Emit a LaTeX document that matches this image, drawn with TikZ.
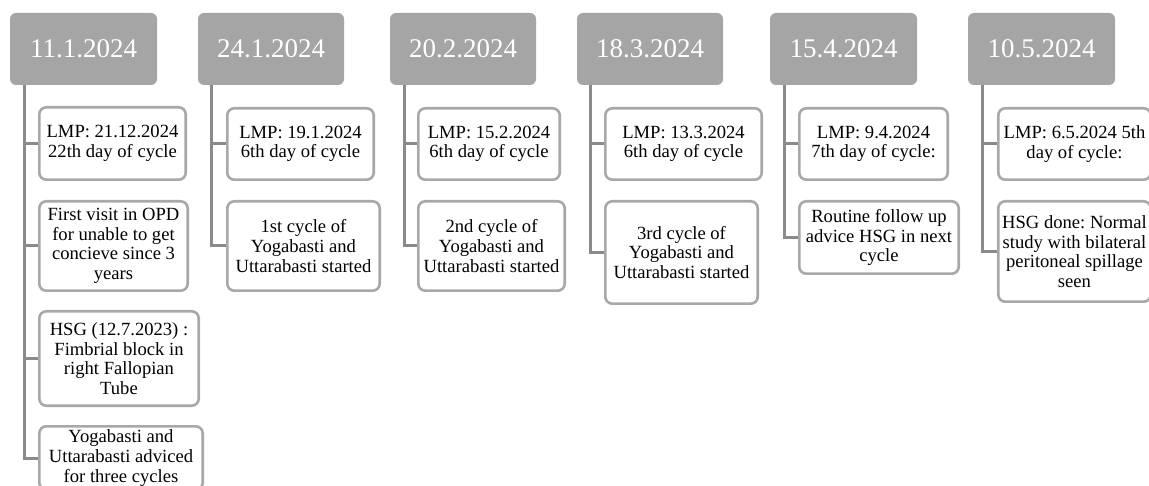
\documentclass[tikz,border=0pt]{standalone}
\usepackage{fontspec}
\setmainfont{Liberation Serif}
\frenchspacing
\definecolor{hdrgray}{HTML}{A5A5A5}
\definecolor{boxgray}{HTML}{A8A8A8}
\definecolor{conngray}{HTML}{8A8A8A}
\tikzset{
  hdr/.style={fill=hdrgray, rounded corners=6pt, text=white, inner sep=0pt,
    font=\fontsize{27}{30}\selectfont},
  cbox/.style={draw=boxgray, line width=2.6pt, fill=white, rounded corners=7pt,
    align=center, inner sep=0pt, font=\fontsize{18.6}{19.6}\selectfont},
  conn/.style={draw=conngray, line width=3pt}
}
\newcommand\hbx[5]{\node[hdr, minimum width={#3-#2}, minimum height=72pt] (#1) at ({(#2+#3)/2},49) {#4};
  \coordinate (#1v) at (#5,85);}
\newcommand\cb[6]{\node[cbox, minimum width={#4-#2-2.6}, minimum height={#5-#3-2.6}] (#1) at ({(#2+#4)/2},{(#3+#5)/2}) {#6};}
\begin{document}
\begin{tikzpicture}[x=1pt,y=-1pt]
\useasboundingbox (0,0) rectangle (1149,486);
\clip (0,0) rectangle (1149,486);
\fill[white] (0,0) rectangle (1149,486);
% headers
\hbx{h1}{10}{157}{11.1.2024}{24}
\hbx{h2}{198}{344}{24.1.2024}{211}
\hbx{h3}{390}{536}{20.2.2024}{404}
\hbx{h4}{577}{723}{18.3.2024}{590}
\hbx{h5}{770}{917}{15.4.2024}{784}
\hbx{h6}{968}{1115}{10.5.2024}{982}
% boxes
\cb{a1}{38}{106}{187}{181}{LMP: 21.12.2024\\22th day of cycle}
\cb{a2}{38}{200}{189}{292}{First visit in OPD\\for unable to get\\concieve since 3\\years}
\cb{a3}{38}{310}{200}{407}{HSG (12.7.2023) :\\Fimbrial block in\\right Fallopian\\Tube}
\cb{a4}{38}{425}{204}{491}{Yogabasti and\\Uttarabasti adviced\\for three cycles}
\cb{b1}{226}{107}{375}{181}{LMP: 19.1.2024\\6th day of cycle}
\cb{b2}{226}{200}{381}{292}{1st cycle of\\Yogabasti and\\Uttarabasti started}
\cb{c1}{417}{107}{561}{181}{LMP: 15.2.2024\\6th day of cycle}
\cb{c2}{417}{200}{566}{292}{2nd cycle of\\Yogabasti and\\Uttarabasti started}
\cb{d1}{604}{107}{763}{181}{LMP: 13.3.2024\\6th day of cycle}
\cb{d2}{604}{200}{759}{305}{3rd cycle of\\Yogabasti and\\Uttarabasti started}
\cb{e1}{798}{107}{949}{181}{LMP: 9.4.2024\\7th day of cycle:}
\cb{e2}{798}{200}{960}{275}{Routine follow up\\advice HSG in next\\cycle}
\cb{f1}{997}{107}{1152}{181}{LMP: 6.5.2024 5th\\day of cycle:}
\cb{f2}{997}{200}{1152}{303}{HSG done: Normal\\study with bilateral\\peritoneal spillage\\seen}
% connectors
\draw[conn] (h1v) |- (a4.west);
\draw[conn] (h1v |- a1.west) -- (a1.west);
\draw[conn] (h1v |- a2.west) -- (a2.west);
\draw[conn] (h1v |- a3.west) -- (a3.west);
\draw[conn] (h2v) |- (b2.west);
\draw[conn] (h2v |- b1.west) -- (b1.west);
\draw[conn] (h3v) |- (c2.west);
\draw[conn] (h3v |- c1.west) -- (c1.west);
\draw[conn] (h4v) |- (d2.west);
\draw[conn] (h4v |- d1.west) -- (d1.west);
\draw[conn] (h5v) |- (e2.west);
\draw[conn] (h5v |- e1.west) -- (e1.west);
\draw[conn] (h6v) |- (f2.west);
\draw[conn] (h6v |- f1.west) -- (f1.west);
\end{tikzpicture}
\end{document}
